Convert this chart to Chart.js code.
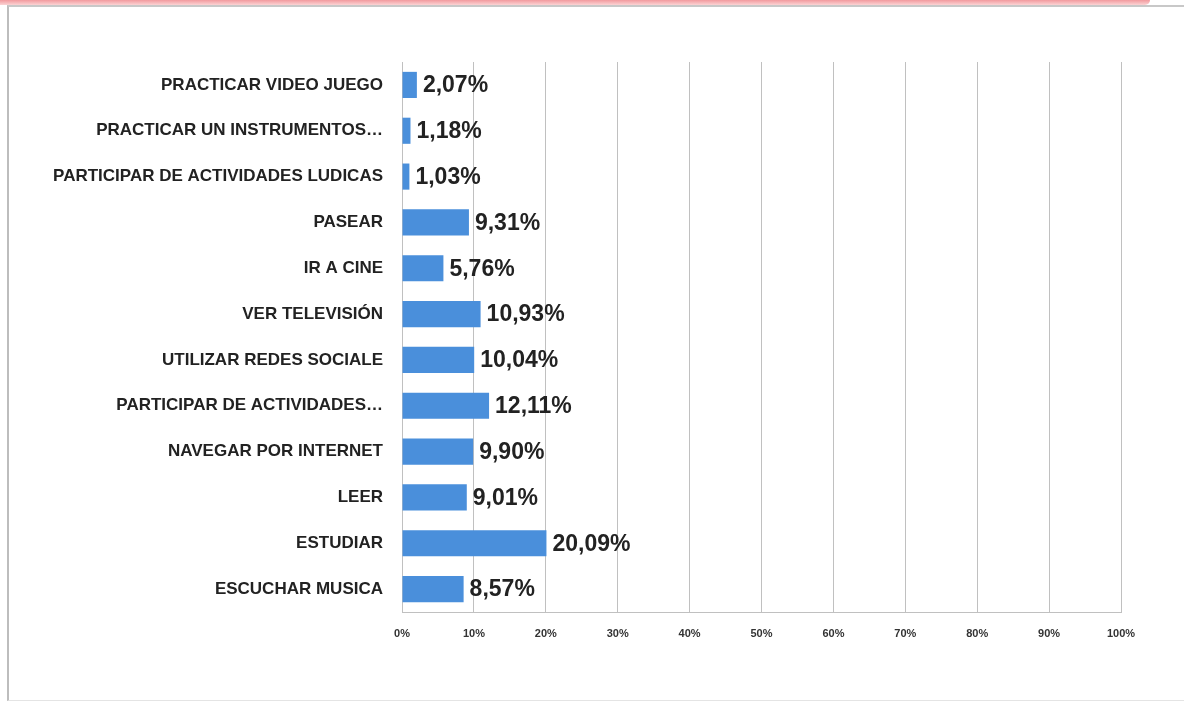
<!DOCTYPE html>
<html>
<head>
<meta charset="utf-8">
<script src="https://cdn.jsdelivr.net/npm/chart.js@4.4.1/dist/chart.umd.min.js"></script>
<style>
  html, body { margin: 0; padding: 0; background: #fff; }
  #frame { position: relative; width: 1184px; height: 702px; overflow: hidden; }
  #band { position: absolute; left: 0; top: 0; width: 1150px; height: 5px;
          background: linear-gradient(#f29a9e, #fbd3d4); border-radius: 0 0 6px 0; }
  #box { position: absolute; left: 7px; top: 5px; right: 0; bottom: 1px;
         border-left: 2px solid #bdbdbd; border-top: 2px solid #c8c8c8; border-bottom: 1px solid #e4e4e4; }
  #wrap { position: absolute; left: 0; top: 0; width: 1184px; height: 702px; }
</style>
</head>
<body>
<div id="frame">
  <div id="band"></div>
  <div id="box"></div>
  <div id="wrap"><canvas id="barChart" width="1184" height="702"></canvas></div>
</div>
<script>
const categories = [
  'PRACTICAR VIDEO JUEGO',
  'PRACTICAR UN INSTRUMENTOS…',
  'PARTICIPAR DE ACTIVIDADES LUDICAS',
  'PASEAR',
  'IR A CINE',
  'VER TELEVISIÓN',
  'UTILIZAR REDES SOCIALE',
  'PARTICIPAR DE ACTIVIDADES…',
  'NAVEGAR POR INTERNET',
  'LEER',
  'ESTUDIAR',
  'ESCUCHAR MUSICA'
];
const percentages = [2.07, 1.18, 1.03, 9.31, 5.76, 10.93, 10.04, 12.11, 9.90, 9.01, 20.09, 8.57];
const tickValues = [0, 10, 20, 30, 40, 50, 60, 70, 80, 90, 100];

// value labels at the end of each bar, comma decimals like the original
const valueLabels = {
  id: 'valueLabels',
  afterDatasetsDraw(chart) {
    const ctx = chart.ctx;
    const meta = chart.getDatasetMeta(0);
    ctx.save();
    ctx.font = 'bold 23px "Liberation Sans", Arial, sans-serif';
    ctx.fillStyle = '#222';
    ctx.textBaseline = 'middle';
    ctx.textAlign = 'left';
    meta.data.forEach((bar, i) => {
      const txt = percentages[i].toFixed(2).replace('.', ',') + '%';
      ctx.fillText(txt, bar.x + 6, bar.y + 1);
    });
    ctx.restore();
  }
};

const ctx = document.getElementById('barChart');

new Chart(ctx, {
  type: 'bar',
  data: {
    labels: categories,
    datasets: [{
      data: percentages,
      backgroundColor: '#4a8fdb',
      borderWidth: 0,
      categoryPercentage: 0.57,
      barPercentage: 1
    }]
  },
  options: {
    indexAxis: 'y',
    responsive: false,
    animation: false,
    layout: { padding: { top: 62, right: 63, bottom: 50, left: 0 } },
    plugins: {
      legend: { display: false },
      tooltip: { enabled: false }
    },
    scales: {
      x: {
        min: 0,
        max: 100,
        afterBuildTicks(scale) {
          scale.ticks = tickValues.map(v => ({ value: v }));
        },
        afterFit(scale) { scale.height = 40; },
        grid: { color: '#c0c0c0', lineWidth: 1, drawTicks: false },
        border: { display: true, color: '#c0c0c0', width: 1 },
        ticks: {
          padding: 15,
          maxRotation: 0,
          color: '#333',
          font: { family: '"Liberation Sans", Arial, sans-serif', size: 11, weight: 'bold' },
          callback: v => v + '%'
        }
      },
      y: {
        afterFit(scale) { scale.width = 402; },
        grid: { display: false, drawTicks: false },
        border: { display: true, color: '#c0c0c0', width: 1 },
        ticks: {
          padding: 19,
          color: '#222',
          autoSkip: false,
          font: { family: '"Liberation Sans", Arial, sans-serif', size: 17, weight: 'bold' }
        }
      }
    }
  },
  plugins: [valueLabels]
});
</script>
</body>
</html>
